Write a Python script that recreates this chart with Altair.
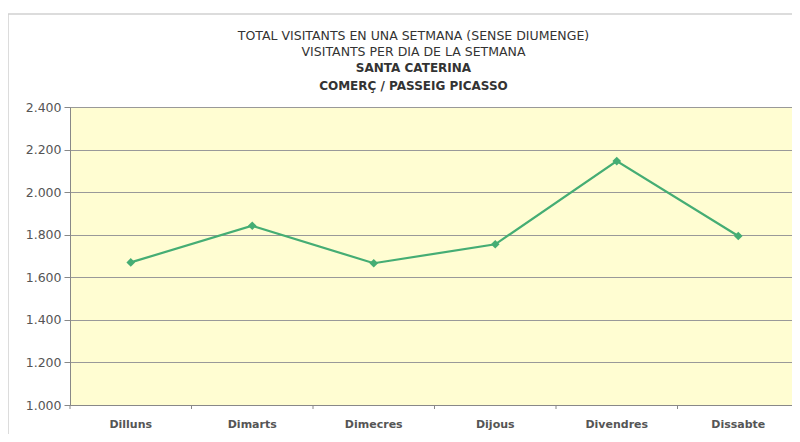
import altair as alt
import pandas as pd

days = ["Dilluns", "Dimarts", "Dimecres", "Dijous", "Divendres", "Dissabte"]
visitors = [1670, 1842, 1666, 1755, 2146, 1794]
y_ticks = [1000, 1200, 1400, 1600, 1800, 2000, 2200, 2400]

df = pd.DataFrame({"dia": days, "visitants": visitors})

FONT = "DejaVu Sans"
GREEN = "#45AD74"

x_enc = alt.X("dia:N", sort=days, scale=alt.Scale(paddingInner=0, paddingOuter=0), title=None,
              axis=alt.Axis(labelFontSize=11, labelFontWeight="bold", labelColor="#555", labelFont=FONT,
                            labelPadding=13, ticks=False, domainColor="#888", labelAngle=0))
y_enc = alt.Y("visitants:Q", scale=alt.Scale(domain=[1000, 2400], nice=False, zero=False), title=None,
              axis=alt.Axis(values=y_ticks, labelExpr="replace(format(datum.value, ',d'), ',', '.')",
                            labelFontSize=12.5, labelColor="#555", labelFont=FONT, gridColor="#999",
                            gridWidth=1, domainColor="#888", tickColor="#888", tickSize=6, labelPadding=3))

base = alt.Chart(df)
line = base.mark_line(color=GREEN, strokeWidth=2.2).encode(x=x_enc, y=y_enc)
pts = base.mark_point(shape="diamond", filled=True, size=75, color=GREEN, opacity=1).encode(
    x=alt.X("dia:N", sort=days), y="visitants:Q")
xticks = base.mark_rule(color="#888", strokeWidth=1).encode(
    x=alt.X("dia:N", sort=days, bandPosition=0), y=alt.value(298), y2=alt.value(302))

frame = alt.Data(values=[{"a": 1}])
frame_top = alt.Chart(frame).mark_rule(color="#d0d0d0", strokeWidth=1.5).encode(
    x=alt.value(-62), x2=alt.value(735), y=alt.value(-93))
frame_left = alt.Chart(frame).mark_rule(color="#d0d0d0", strokeWidth=1.5).encode(
    x=alt.value(-62), y=alt.value(-93), y2=alt.value(340))

chart = alt.layer(line, pts, xticks, frame_top, frame_left).properties(
    width=729, height=298,
    view=alt.ViewBackground(fill="#FFFDD2", stroke="#999", strokeWidth=1),
    title=alt.TitleParams(
        text=["TOTAL VISITANTS EN UNA SETMANA (SENSE DIUMENGE)", "VISITANTS PER DIA DE LA SETMANA"],
        subtitle=["SANTA CATERINA", "COMERÇ / PASSEIG PICASSO"],
        font=FONT, fontSize=12.5, fontWeight="normal", color="#333", lineHeight=16,
        subtitleFont=FONT, subtitleFontSize=12, subtitleFontWeight="bold", subtitleColor="#333",
        subtitleLineHeight=18, subtitlePadding=5, anchor="middle", frame="group", dx=-21,
        offset=12, dy=91),
    autosize=alt.AutoSizeParams(type="none"),
    padding={"left": 62, "top": 99, "right": -7, "bottom": 29},
).configure(background="white")

chart.save("out.html", embed_options={"renderer": "svg", "actions": False})
